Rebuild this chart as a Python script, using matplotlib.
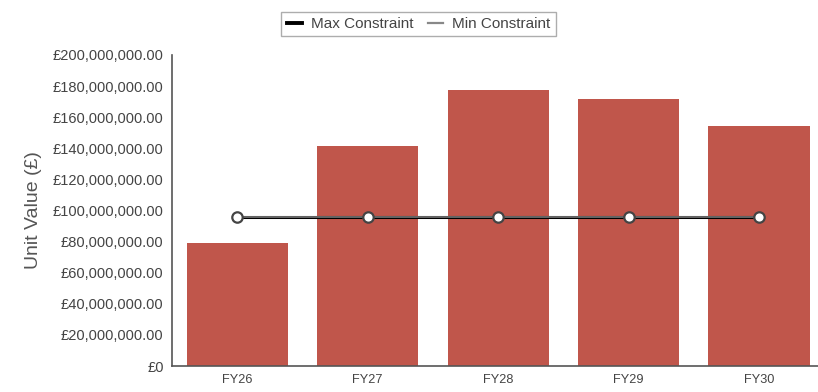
import matplotlib
matplotlib.use('Agg')
import matplotlib.pyplot as plt
from matplotlib.ticker import FuncFormatter

plt.rcParams['font.family'] = ['Liberation Sans', 'DejaVu Sans']

years = ['FY26', 'FY27', 'FY28', 'FY29', 'FY30']
unit_value = [79.0e6, 141.5e6, 177.5e6, 171.7e6, 154.5e6]
max_constraint = [96e6, 96e6, 96e6, 96e6, 96e6]
min_constraint = [96e6, 96e6, 96e6, 96e6, 96e6]


def pounds(v, pos):
    if v == 0:
        return '£0'
    return '£{:,.2f}'.format(v)


fig = plt.figure(figsize=(8.18, 3.92), dpi=100)
ax = fig.add_axes([172 / 818, 26 / 392, 646 / 818, 311 / 392])

x = list(range(len(years)))
ax.bar(x, unit_value, width=0.775, color='#c0564b', zorder=2)

ax.plot(x, max_constraint, color='black', lw=2.2, zorder=3, label='Max Constraint')
ax.plot(x, min_constraint, color='#777777', lw=1.2, zorder=4, label='Min Constraint',
        marker='o', markersize=7.5, markerfacecolor='white',
        markeredgecolor='#444444', markeredgewidth=1.6)

ax.set_xlim(-0.5, 4.452)
ax.set_ylim(0, 200e6)
ax.set_yticks([i * 20e6 for i in range(11)])
ax.yaxis.set_major_formatter(FuncFormatter(pounds))
ax.set_xticks(x)
ax.set_xticklabels(years)
ax.tick_params(axis='both', length=0, labelcolor='#444444')
ax.tick_params(axis='x', labelsize=9.2, pad=6)
ax.tick_params(axis='y', labelsize=10.5, pad=6)

for side in ['top', 'right']:
    ax.spines[side].set_visible(False)
for side in ['left', 'bottom']:
    ax.spines[side].set_color('#555555')
    ax.spines[side].set_linewidth(1.2)

ax.set_ylabel('Unit Value (£)', fontsize=14, color='#555555', labelpad=8)

handles = [plt.Line2D([], [], color='black', lw=2.8),
           plt.Line2D([], [], color='#888888', lw=1.6)]
leg = fig.legend(handles, ['Max Constraint', 'Min Constraint'],
                 loc='center', bbox_to_anchor=(418.5 / 818, 1 - 24 / 392),
                 ncol=2, fontsize=11, frameon=True, fancybox=False,
                 handlelength=1.0, handletextpad=0.6, columnspacing=0.9,
                 borderpad=0.35)
leg.get_frame().set_edgecolor('#999999')
leg.get_frame().set_linewidth(1.0)
for t in leg.get_texts():
    t.set_color('#444444')

fig.savefig('out.png', dpi=100)
